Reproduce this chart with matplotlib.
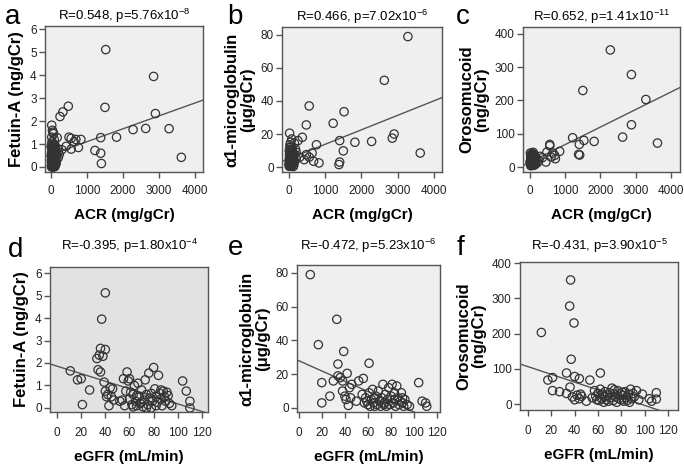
import numpy as np
import matplotlib
matplotlib.use("Agg")
from matplotlib import pyplot as plt

plt.rcParams['font.family'] = ['Liberation Sans', 'DejaVu Sans']
plt.rcParams['mathtext.fontset'] = 'custom'
plt.rcParams['mathtext.rm'] = 'Liberation Sans'
plt.rcParams['mathtext.it'] = 'Liberation Sans:italic'

# ---- data ----
# panel a: ACR vs fetuin-A
acr_a = [1520, 2850, 1500, 2900, 480, 330, 250, 2280, 2630, 3280, 1820, 3620,
         1380, 1220, 1380, 1400, 500, 560, 690, 830, 640, 420, 560, 760, 300, 200,
         20, 40, 55, 70, 170, 90, 30, 60, 110, 15, 40, 80, 130, 25, 60, 100, 150, 20,
         45, 85, 120, 10, 35, 70, 100, 140, 20, 50, 90, 30, 60, 110, 15, 75, 40, 10,
         160, 50, 25, 65, 130, 200, 230, 180, 100,
         5, 15, 25, 35, 45, 55, 65, 75, 85, 95, 105, 115, 125, 135, 145, 10, 30, 50,
         70, 90, 20, 40, 60, 80]
fet_a = [5.12, 3.95, 2.6, 2.33, 2.65, 2.4, 2.2, 1.63, 1.68, 1.67, 1.3, 0.42,
         1.28, 0.72, 0.6, 0.15, 1.3, 1.25, 1.2, 1.2, 1.1, 0.9, 0.78, 0.85, 0.75, 0.65,
         1.82, 1.6, 1.52, 1.45, 1.28, 1.2, 1.1, 1.0, 0.95, 0.85, 0.8, 0.78, 0.7, 0.65,
         0.6, 0.55, 0.5, 0.5, 0.45, 0.4, 0.35, 0.3, 0.3, 0.25, 0.2, 0.15, 0.15, 0.1,
         0.08, 0.05, 0.03, 0.02, 0.0, 0.0, 0.7, 0.55, 0.6, 0.25, 0.4, 0.85, 0.3, 0.4,
         0.55, 0.8, 0.05,
         0.9, 0.2, 1.0, 0.6, 0.15, 0.45, 0.35, 0.7, 0.55, 0.9, 0.3, 0.75, 0.1, 0.5,
         0.25, 0.05, 0.4, 0.6, 0.1, 0.65, 1.3, 0.0, 0.8, 0.35]

# panel b: ACR vs alpha1-microglobulin
acr_b = [3280, 2630, 560, 1520, 1220, 480, 2900, 2850, 1400, 1820, 2280, 3620, 1500,
         760, 370, 250, 1380, 1400, 830, 680, 640, 560, 480, 420, 300, 200,
         20, 30, 80, 150, 60, 10, 40, 100, 20, 70, 130, 15, 50, 90, 160, 25, 60, 110,
         10, 40, 80, 30, 120, 55, 35, 75, 200, 180, 45, 95, 140, 20, 65, 100,
         5, 15, 25, 35, 45, 55, 65, 75, 85, 95, 105, 115, 125, 135, 145, 10, 30, 50,
         70, 90, 20, 40, 60, 80]
a1m_b = [79, 52.5, 37, 33.5, 26.5, 25.5, 20, 17.5, 16, 15, 15.5, 8.5, 9.8,
         13.5, 18, 16, 1.5, 3, 2.5, 3.5, 8.5, 6, 7.5, 4.5, 6, 5,
         20.5, 13.5, 17, 14.5, 12, 10, 9, 8.5, 7, 6.5, 6, 5, 4.5, 4, 3.5, 3, 2.5, 2,
         1.5, 1, 0.8, 0.5, 0.3, 3.5, 6, 10, 9, 11, 2, 1.5, 8, 4, 5.5, 3,
         2, 4, 6, 8, 1, 3, 5, 7, 9, 11, 2, 4, 6, 1, 3, 0.5, 12, 15, 2.5, 5, 8, 1,
         3.5, 6.5]

# panel c: ACR vs orosomucoid
acr_c = [2280, 2880, 1500, 3290, 2880, 1210, 2630, 1530, 1820, 3620, 1400, 1380, 1410,
         560, 560, 840, 720, 480, 650, 600, 450, 700, 350, 280, 250,
         10, 30, 60, 100, 20, 50, 150, 80, 120, 10, 40, 70, 100, 30, 60, 90, 20, 130,
         170, 200, 50, 40, 110, 15, 80, 25, 140, 55, 190, 95,
         5, 15, 25, 35, 45, 55, 65, 75, 85, 95, 105, 115, 125, 135, 145, 10, 30, 50,
         70, 90, 20, 40, 60, 80]
oro_c = [352, 278, 230, 203, 127, 88, 90, 80, 77, 72, 68, 38, 36,
         68, 64, 47, 25, 45, 42, 30, 15, 35, 28, 32, 20,
         42, 38, 35, 30, 28, 25, 25, 22, 20, 18, 15, 12, 10, 8, 6, 5, 4, 15,
         18, 12, 30, 20, 35, 12, 40, 22, 8, 16, 25, 18,
         10, 15, 20, 25, 30, 35, 12, 18, 22, 28, 8, 14, 6, 24, 32, 16, 26, 5,
         38, 44, 30, 20, 10, 14]

# panel d: eGFR vs fetuin-A
egfr_d = [40, 37, 33, 35, 36, 38, 40, 11, 17, 20, 21, 27, 34, 36, 39, 40, 41, 43, 44,
          46, 45, 47, 42, 104, 107, 110, 110,
          55, 58, 59, 57, 60, 62, 63, 64, 65, 66, 67, 68, 69, 70, 71, 72, 73, 74, 75,
          76, 77, 78, 79, 80, 81, 82, 83, 84, 85, 86, 87, 88, 89, 90, 91, 92, 93, 95,
          52, 54, 56, 61, 63, 66, 70, 74, 78, 82, 86, 60]
fet_d = [5.12, 3.95, 2.2, 2.35, 2.65, 2.3, 2.6, 1.65, 1.25, 1.3, 0.15, 0.8, 1.7, 1.6,
         1.15, 0.75, 0.5, 0.1, 0.9, 0.85, 0.5, 0.35, 0.6, 1.2, 0.75, 0.3, 0.0,
         1.3, 1.6, 1.2, 0.75, 0.4, 0.15, 0.6, 1.0, 0.3, 0.1, 1.1, 0.5, 0.2, 0.8, 0.05,
         0.35, 1.25, 0.6, 0.15, 1.55, 0.45, 0.0, 0.3, 1.8, 0.85, 0.5, 0.25, 1.45, 0.65,
         0.4, 0.1, 0.75, 0.5, 0.3, 0.7, 0.55, 0.2, 0.1,
         0.3, 0.35, 0.1, 0.7, 0.05, 0.55, 0.25, 0.0, 0.65, 0.1, 0.8, 1.3]

# panel e: eGFR vs alpha1-microglobulin
egfr_e = [10, 33, 17, 39, 34, 61, 42, 56, 20, 30, 34, 36, 38, 104, 27, 20, 40, 38, 41,
          44, 46, 45, 43, 52, 50,
          55, 57, 58, 60, 61, 62, 63, 64, 65, 66, 67, 68, 69, 70, 71, 72, 73, 74, 75,
          76, 77, 78, 79, 80, 81, 82, 83, 84, 85, 86, 87, 88, 89, 90, 91, 92, 94, 96,
          107, 110, 111, 59, 66, 74, 83, 90]
a1m_e = [79, 52.5, 37.5, 33.5, 26, 26.5, 20.5, 17.5, 15, 16, 19, 18, 16, 15, 7, 3, 7,
         10, 5, 12, 14, 6, 1.5, 16, 4,
         8, 3, 6, 2, 9, 1, 5, 11, 3, 1, 7, 2, 10, 4, 1, 6, 14, 3, 8, 1, 5, 12, 2, 7,
         14, 3, 5, 1, 13, 6, 2, 4, 9, 3, 1, 5, 2, 1, 4, 3, 1, 4, 6, 2, 9, 6]

# panel f: eGFR vs orosomucoid
egfr_f = [36.5, 35.7, 39.4, 11.4, 37, 33, 40, 44, 53, 62, 17, 21, 21, 27, 33, 36, 38,
          40, 42, 44, 45, 46, 50, 104, 106, 110, 110,
          55, 57, 58, 60, 61, 62, 63, 64, 65, 66, 67, 68, 69, 70, 71, 72, 73, 74, 75,
          76, 77, 78, 79, 80, 81, 82, 83, 84, 85, 86, 88, 89, 90, 91, 93, 95, 98,
          59, 66, 74, 81, 87]
oro_f = [352, 278, 230, 203, 127, 88, 78, 72, 68, 88, 68, 75, 38, 35, 30, 48, 20,
         12, 25, 15, 28, 22, 8, 15, 8, 32, 14,
         18, 38, 22, 30, 10, 42, 15, 28, 5, 35, 12, 25, 8, 32, 18, 45, 10, 28, 20,
         5, 38, 15, 30, 12, 25, 8, 35, 18, 10, 28, 42, 15, 30, 20, 38, 12, 28,
         12, 20, 40, 33, 5]

# regression lines (intercept, slope)
fit_a = (0.54, 0.000563)
fit_b = (5.0, 0.00878)
fit_c = (15.0, 0.0526)
fit_d = (1.86, -0.0168)
fit_e = (28.0, -0.304)
fit_f = (106.0, -1.1)

titles = ["R=0.548, p=5.76x10$^{-8}$", "R=0.466, p=7.02x10$^{-6}$",
          "R=0.652, p=1.41x10$^{-11}$", "R=-0.395, p=1.80x10$^{-4}$",
          "R=-0.472, p=5.23x10$^{-6}$", "R=-0.431, p=3.90x10$^{-5}$"]
letters = ["a", "b", "c", "d", "e", "f"]
ylabels = ["Fetuin-A (ng/gCr)", "\u03b11-microglobulin\n(\u03bcg/gCr)", "Orosomucoid\n(ng/gCr)"] * 2

W, H = 684, 466
fig = plt.figure(figsize=(W / 100, H / 100), dpi=100)


def box(l, r, t, b):
    return [l / W, 1 - b / H, (r - l) / W, (b - t) / H]


rects = [box(45, 203, 26, 172), box(282, 442, 27, 172), box(523, 680, 27, 172),
         box(50, 208, 267, 412), box(297, 440, 265, 412), box(520, 678, 262, 410)]
xs = [acr_a, acr_b, acr_c, egfr_d, egfr_e, egfr_f]
ys = [fet_a, a1m_b, oro_c, fet_d, a1m_e, oro_f]
fits = [fit_a, fit_b, fit_c, fit_d, fit_e, fit_f]
xlims = [(-167, 4222), (-190, 4220), (-200, 4260), (-5.8, 125), (-1.5, 122.5), (-6.9, 128.6)]
ylims = [(-0.22, 6.15), (-3, 84.8), (-15, 421), (-0.18, 6.27), (-2.4, 84.7), (-17, 403)]
yticks = [range(0, 7), range(0, 81, 20), range(0, 401, 100)] * 2
xticks = [range(0, 4001, 1000)] * 3 + [range(0, 121, 20)] * 3
bgs = ['#efefef', '#efefef', '#efefef', '#e2e2e2', '#efefef', '#efefef']
title_pads = [4, 4, 4, 12, 11, 9]
xpads = [5, 5, 5, 7, 7, 7]
letter_pos = [(5, 24), (227, 24), (456, 24), (8, 257), (228, 255), (457, 255)]

for i in range(6):
    ax = fig.add_axes(rects[i])
    ax.set_facecolor(bgs[i])
    ax.scatter(xs[i], ys[i], s=36, facecolors='none', edgecolors='#333333', linewidths=0.9, zorder=3)
    x0, x1 = xlims[i]
    fx = np.array([x0, x1])
    ax.plot(fx, fits[i][0] + fits[i][1] * fx, color='#555555', lw=1, zorder=2)
    ax.set_xlim(x0, x1)
    ax.set_ylim(*ylims[i])
    ax.set_xticks(list(xticks[i]))
    ax.set_yticks(list(yticks[i]))
    ax.tick_params(direction='out', length=4, width=1, color='#555555', labelsize=8.5, pad=2,
                   labelcolor='#222222')
    ax.tick_params(axis='x', pad=xpads[i])
    for s in ax.spines.values():
        s.set_color('#555555')
        s.set_linewidth(1)
    ax.set_title(titles[i], fontsize=9.5, pad=title_pads[i])
    if i < 3:
        ax.set_xlabel("ACR (mg/gCr)", fontsize=11, fontweight='bold', labelpad=8)
    else:
        ax.set_xlabel("eGFR (mL/min)", fontsize=11, fontweight='bold', labelpad=8)
    ax.set_ylabel(ylabels[i], fontsize=12, fontweight='bold', labelpad=4, linespacing=1.0)
    fig.text(letter_pos[i][0] / W, 1 - letter_pos[i][1] / H, letters[i], fontsize=20, va='baseline')

plt.savefig('out.png', dpi=100)
